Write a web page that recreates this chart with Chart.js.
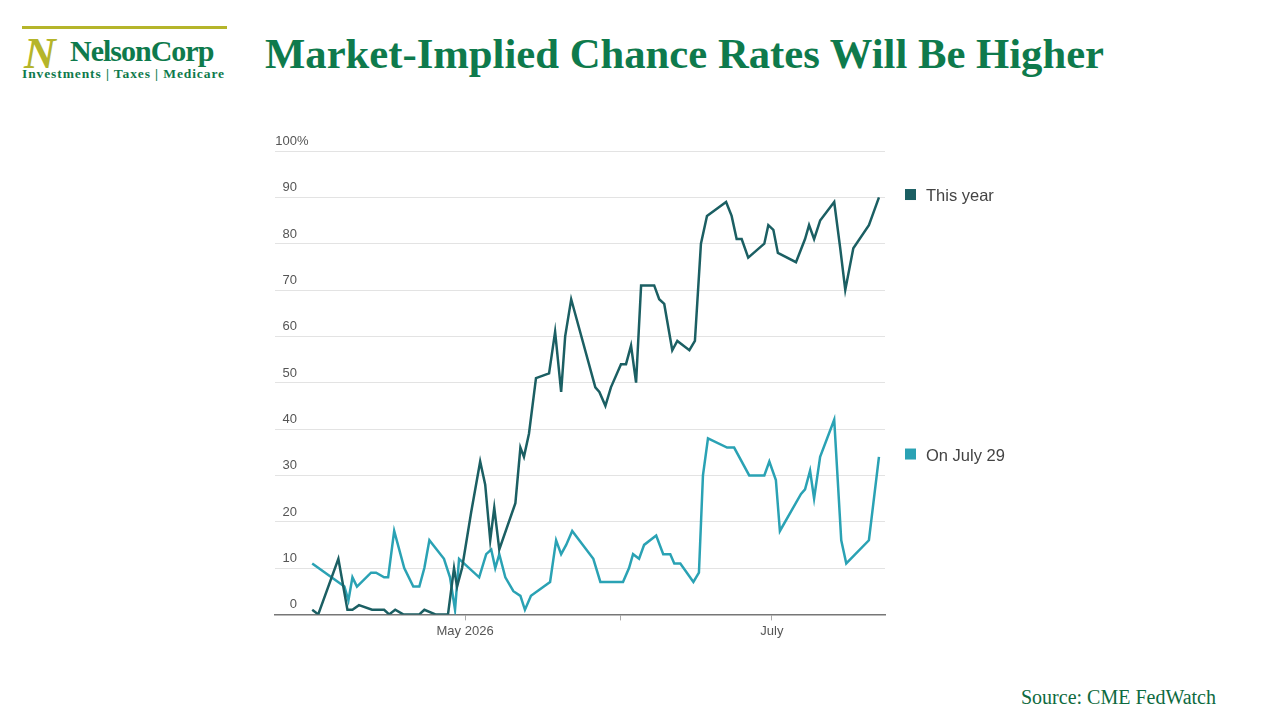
<!DOCTYPE html>
<html><head><meta charset="utf-8">
<script src="https://cdn.jsdelivr.net/npm/chart.js@4"></script>
<style>
body{margin:0;width:1280px;height:720px;background:#fff;position:relative;overflow:hidden;font-family:"Liberation Serif",serif}
#title{position:absolute;left:265px;top:29px;font-size:42.7px;font-weight:bold;color:#0e7a4c}
#logo{position:absolute;left:22px;top:26px;width:205px}
#src{position:absolute;right:64px;top:686px;font-size:20px;color:#0e6a40}
#wrap{position:absolute;left:200px;top:120px;width:820px;height:540px}
</style></head><body>
<div id="logo">
 <div style="position:absolute;left:0;top:0;width:205px;height:3px;background:#b5b52a"></div>
 <div style="position:absolute;left:2px;top:2px;font:bold 44px 'Liberation Serif';color:#b5b52a;font-style:italic">N</div>
 <div style="position:absolute;left:48px;top:8px;font:bold 30px 'Liberation Serif';color:#0e7a4c;letter-spacing:-1px">NelsonCorp</div>
 <div style="position:absolute;left:0;top:40px;font:bold 13.5px 'Liberation Serif';color:#0e7a4c;white-space:nowrap;letter-spacing:0.9px">Investments | Taxes | Medicare</div>
</div>
<div id="title">Market-Implied Chance Rates Will Be Higher</div>
<div id="wrap"><canvas id="c"></canvas></div>
<div id="src">Source: CME FedWatch</div>
<script>
// days since April 1, 2026
const yearDays = [-0.4,0.8,4.8,6.6,7.6,8.9,11.5,13.9,14.9,16.1,17.7,19.3,20.9,21.9,24.1,26.6,27.8,28.4,29.4,31.2,33.0,34.0,35.0,35.8,36.8,40.0,41.0,41.7,42.7,44.1,46.7,47.9,49.1,49.9,51.1,55.9,56.7,57.9,59.0,61.0,62.0,63.0,64.0,65.0,67.6,68.6,69.6,71.2,72.2,74.6,75.7,76.9,78.1,81.9,83.0,84.0,85.0,86.3,89.5,90.3,91.3,92.2,95.8,97.6,98.4,99.4,100.6,103.4,104.6,105.6,107.2,110.3,112.3];
const yearVals = [1,0,12,1,1,2,1,1,0,1,0,0,0,1,0,0,10,6,10,22,33,28,16,23,14,24,36,34,39,51,52,61,48,60,68,49,48,45,49,54,54,58,50,71,71,68,67,57,59,57,59,80,86,89,86,81,81,77,80,84,83,78,76,81,84,81,85,89,79,70,79,84,90];
const julyDays = [-0.4,6.0,6.8,7.6,8.5,11.3,12.3,13.9,14.7,15.9,17.9,19.7,20.9,21.9,22.9,25.8,27.0,28.0,28.8,30.8,32.8,34.2,35.2,36.0,36.8,38.0,39.6,41.0,41.9,43.1,46.9,48.1,49.1,50.1,51.3,55.5,56.9,61.4,62.6,63.4,64.6,65.6,68.0,69.4,70.8,71.6,72.8,75.4,76.5,77.3,78.3,82.1,83.5,86.5,89.5,90.5,91.8,92.6,96.8,97.6,98.6,99.4,100.6,103.4,104.8,105.8,110.3,112.3];
const julyVals = [11,6,3,8,6,9,9,8,8,18,10,6,6,10,16,12,8,1,12,10,8,13,14,10,13,8,5,4,1,4,7,16,13,15,18,12,7,7,10,13,12,15,17,13,13,11,11,7,9,30,38,36,36,30,30,33,29,18,26,27,31,25,34,42,16,11,16,34];
const seriesNames = ['This year','On July 29'];
const legendAt = [90.5,34.5];
const xTicks = [30,61,91];
const xTickLabels = {30:'May 2026',61:'',91:'July'};
const yTicks = [0,10,20,30,40,50,60,70,80,90,100];
const colors = ['#1b5f63','#2aa2b4'];

const pts = (d,v) => d.map((x,i)=>({x:x,y:v[i]}));

const overlay = {
  id:'overlay',
  afterDraw(ch){
    const g=ch.ctx, ys=ch.scales.y, a=ch.chartArea;
    g.save();
    g.font='13px "Liberation Sans"'; g.fillStyle='#555';
    yTicks.forEach(t=>{
      const y=ys.getPixelForValue(t)-10;
      g.textAlign='right'; g.fillText(String(t),97,y+4);
      if(t===100){g.textAlign='left';g.fillText('%',97,y+4);}
    });
    g.font='16.5px "Liberation Sans"';
    seriesNames.forEach((n,i)=>{
      const y=ys.getPixelForValue(legendAt[i]);
      g.fillStyle=colors[i]; g.fillRect(a.right+20,y-6,11,11);
      g.fillStyle='#444'; g.textAlign='left'; g.fillText(n,a.right+41,y+6);
    });
    g.restore();
  }
};

new Chart(document.getElementById('c'),{
  type:'line',
  data:{datasets:[
    {label:seriesNames[0],data:pts(yearDays,yearVals),borderColor:colors[0],borderWidth:2.5,pointRadius:0,tension:0},
    {label:seriesNames[1],data:pts(julyDays,julyVals),borderColor:colors[1],borderWidth:2.5,pointRadius:0,tension:0}
  ]},
  options:{
    responsive:true,maintainAspectRatio:false,animation:false,
    layout:{padding:{left:75,right:135,top:31,bottom:18}},
    plugins:{legend:{display:false},tooltip:{enabled:false}},
    scales:{
      x:{type:'linear',min:-7.8,max:113.5,
        afterBuildTicks:s=>{s.ticks=xTicks.map(v=>({value:v}));},
        ticks:{autoSkip:false,maxRotation:0,color:'#555',font:{size:13,family:'Liberation Sans'},callback:v=>xTickLabels[v]},
        grid:{drawOnChartArea:false,tickLength:6,color:'#aaa'},
        border:{color:'#777',width:1.5}},
      y:{min:0,max:100,
        afterBuildTicks:s=>{s.ticks=yTicks.map(v=>({value:v}));},
        ticks:{display:false},
        grid:{color:'#e3e3e3',drawTicks:false},
        border:{display:false}}
    }
  },
  plugins:[overlay]
});
</script>
</body></html>
